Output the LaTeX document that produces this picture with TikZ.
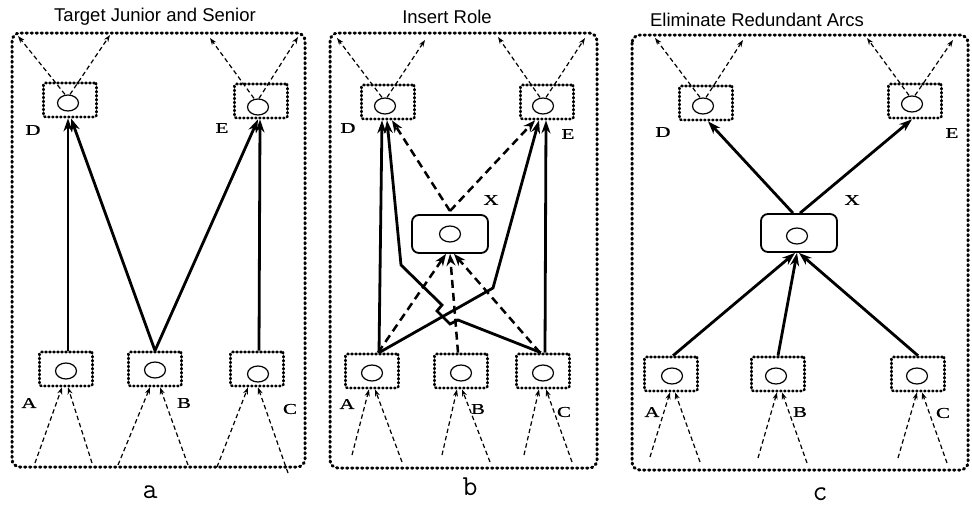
\documentclass[tikz,border=0pt]{standalone}
\usepackage{fontspec}
\setmainfont{Liberation Serif}
\newfontfamily\ttlfont{Liberation Sans}
\newfontfamily\lblfont[FakeStretch=1.4,FakeBold=0.6]{Liberation Serif}
\usetikzlibrary{arrows.meta,shapes.geometric}
\tikzset{
  panel/.style={line width=3pt,dash pattern=on 1.3pt off 3.7pt,line cap=round,rounded corners=8pt},
  role/.style={draw,line width=2.7pt,dash pattern=on 1pt off 3pt,line cap=round,rounded corners=2pt,minimum width=53pt,minimum height=34pt,inner sep=0pt},
  rolex/.style={draw,line width=1.8pt,rounded corners=7pt,minimum width=76pt,minimum height=38pt,inner sep=0pt},
  ring/.style={draw,ellipse,line width=1.2pt,minimum width=21pt,minimum height=16pt,inner sep=0pt},
  lbl/.style={font=\lblfont\fontsize{15}{15}\selectfont,inner sep=0pt},
  ttl/.style={font=\ttlfont\fontsize{18.5}{19}\selectfont,inner sep=0pt},
  subcap/.style={font=\ttfamily\fontsize{29}{29}\selectfont,inner sep=0pt},
  link/.style={line width=2.8pt,-{Stealth[length=13pt,width=9pt]}},
  dlink/.style={line width=2.5pt,dash pattern=on 8pt off 5pt,-{Stealth[length=12pt,width=9pt]}},
  hint/.style={line width=1.2pt,dash pattern=on 4.5pt off 3pt,-{Stealth[length=7pt,width=5pt]}}
}
\begin{document}
\begin{tikzpicture}[x=1pt,y=-1pt]
\useasboundingbox (0,0) rectangle (972,506);
\fill[white] (0,0) rectangle (972,506);

% ================= panel a =================
\node[ttl] (ta) at (155,17) {Target Junior and Senior};
\draw[panel] (12,33) rectangle (305,467);
\node[role] (aD) at (70,100) {};
\node[role] (aE) at (261,101) {};
\node[role] (aA) at (66,369) {};
\node[role] (aB) at (155,369) {};
\node[role] (aC) at (257,369) {};
\node[ring] (aDc) at (68,103) {};
\node[ring] (aEc) at (258,107) {};
\node[ring] (aAc) at (66,371) {};
\node[ring] (aBc) at (155,370) {};
\node[ring] (aCc) at (258,374) {};
\node[lbl] (laD) at (33,130) {D};
\node[lbl] (laE) at (222,128) {E};
\node[lbl] (laA) at (29,403) {A};
\node[lbl] (laB) at (184,403) {B};
\node[lbl] (laC) at (290,409) {C};
\draw[link] ([xshift=2]aA.north) -- ([xshift=-2]aD.south);
\draw[link] (aB.north) -- ([xshift=1]aD.south);
\draw[link] (aB.north) -- ([xshift=-3]aE.south);
\draw[link] ([xshift=2]aC.north) -- ([xshift=-1]aE.south);
% top hints
\coordinate (aT1) at (18,36); \coordinate (aT2) at (110,35);
\coordinate (aT3) at (210,38); \coordinate (aT4) at (298,37);
\draw[hint] ([xshift=-3]aDc.north) -- (aT1);
\draw[hint] ([xshift=2]aDc.north) -- (aT2);
\draw[hint] ([xshift=-4]aEc.north) -- (aT3);
\draw[hint] ([xshift=1]aEc.north) -- (aT4);
% bottom hints
\coordinate (aB1) at (35,463); \coordinate (aB2) at (92,463);
\coordinate (aB3) at (118,465); \coordinate (aB4) at (188,465);
\coordinate (aB5) at (217,467); \coordinate (aB6) at (288,473);
\draw[hint] (aB1) -- ([xshift=-4]aA.south);
\draw[hint] (aB2) -- ([xshift=2]aA.south);
\draw[hint] (aB3) -- ([xshift=-5]aB.south);
\draw[hint] (aB4) -- ([xshift=5]aB.south);
\draw[hint] (aB5) -- ([xshift=-9]aC.south);
\draw[hint] (aB6) -- ([xshift=1]aC.south);
\node[subcap] (capa) at (150,492) {a};

% ================= panel b =================
\node[ttl] (tb) at (447,17) {Insert Role};
\draw[panel] (330,33) rectangle (597,468);
\node[role] (bD) at (388,102) {};
\node[role] (bE) at (547,102) {};
\node[rolex] (bX) at (450,234) {};
\node[role] (bA) at (372,371) {};
\node[role] (bB) at (461,371) {};
\node[role] (bC) at (543,371) {};
\node[ring] (bDc) at (385,106) {};
\node[ring] (bEc) at (543,106) {};
\node[ring] (bXc) at (450,234) {};
\node[ring] (bAc) at (372,373) {};
\node[ring] (bBc) at (461,373) {};
\node[ring] (bCc) at (543,373) {};
\node[lbl] (lbD) at (348,128) {D};
\node[lbl] (lbE) at (568,134) {E};
\node[lbl] (lbX) at (491,200) {X};
\node[lbl] (lbA) at (347,404) {A};
\node[lbl] (lbB) at (478,409) {B};
\node[lbl] (lbC) at (564,412) {C};
% solid links
\coordinate (bK1) at (493,288);
\coordinate (bK2) at (458,320);
\coordinate (bK3) at (450,324);
\coordinate (bK4) at (437,311);
\coordinate (bK5) at (442,305);
\coordinate (bK6) at (401,265);
\draw[link] ([xshift=7]bA.north) -- ([xshift=-6]bD.south);
\draw[link] ([xshift=7]bA.north) -- (bK1) -- ([xshift=-8]bE.south);
\draw[link] ([xshift=2]bC.north) -- ([xshift=-1]bE.south);
\draw[link] ([xshift=-2]bC.north) -- (bK2) -- (bK3) -- (bK4) -- (bK5) -- (bK6) -- ([xshift=-1]bD.south);
% dashed thick links
\coordinate (bV) at (450,211);
\draw[dlink] (bV) -- ([xshift=4]bD.south);
\draw[dlink] (bV) -- ([xshift=-12]bE.south);
\draw[dlink] ([xshift=6]bA.north) -- ([xshift=-4]bX.south);
\draw[dlink] ([xshift=-3]bB.north) -- (bX.south);
\draw[dlink] ([xshift=-3]bC.north) -- ([xshift=4]bX.south);
% top hints
\coordinate (bT1) at (337,38); \coordinate (bT2) at (425,40);
\coordinate (bT3) at (498,37); \coordinate (bT4) at (585,38);
\draw[hint] ([xshift=-3]bDc.north) -- (bT1);
\draw[hint] ([xshift=2]bDc.north) -- (bT2);
\draw[hint] ([xshift=-3]bEc.north) -- (bT3);
\draw[hint] ([xshift=3]bEc.north) -- (bT4);
% bottom hints
\coordinate (bB1) at (352,455); \coordinate (bB2) at (402,462);
\coordinate (bB3) at (442,455); \coordinate (bB4) at (490,462);
\coordinate (bB5) at (524,455); \coordinate (bB6) at (572,462);
\draw[hint] (bB1) -- ([xshift=-3]bA.south);
\draw[hint] (bB2) -- ([xshift=3]bA.south);
\draw[hint] (bB3) -- ([xshift=-4]bB.south);
\draw[hint] (bB4) -- ([xshift=1]bB.south);
\draw[hint] (bB5) -- ([xshift=-4]bC.south);
\draw[hint] (bB6) -- ([xshift=3]bC.south);
\node[subcap] (capb) at (470,487) {b};

% ================= panel c =================
\node[ttl] (tc) at (757,20) {Eliminate Redundant Arcs};
\draw[panel] (632,35) rectangle (968,470);
\node[role] (cD) at (706,103) {};
\node[role] (cE) at (915,101) {};
\node[rolex] (cX) at (799,233) {};
\node[role] (cA) at (671,374) {};
\node[role] (cB) at (778,374) {};
\node[role] (cC) at (918,374) {};
\node[ring] (cDc) at (703,106) {};
\node[ring] (cEc) at (912,104) {};
\node[ring] (cXc) at (797,236) {};
\node[ring] (cAc) at (672,376) {};
\node[ring] (cBc) at (776,376) {};
\node[ring] (cCc) at (917,376) {};
\node[lbl] (lcD) at (663,132) {D};
\node[lbl] (lcE) at (952,133) {E};
\node[lbl] (lcX) at (852,200) {X};
\node[lbl] (lcA) at (652,412) {A};
\node[lbl] (lcB) at (800,412) {B};
\node[lbl] (lcC) at (943,413) {C};
\draw[link] ([xshift=-6]cX.north) -- ([xshift=2]cD.south);
\draw[link] ([xshift=1]cX.north) -- ([xshift=-3]cE.south);
\draw[link] ([xshift=2]cA.north) -- ([xshift=-4]cX.south);
\draw[link] (cB.north) -- ([xshift=-2]cX.south);
\draw[link] (cC.north) -- (cX.south);
% top hints
\coordinate (cT1) at (655,38); \coordinate (cT2) at (743,40);
\coordinate (cT3) at (867,38); \coordinate (cT4) at (953,40);
\draw[hint] ([xshift=-3]cDc.north) -- (cT1);
\draw[hint] ([xshift=3]cDc.north) -- (cT2);
\draw[hint] ([xshift=-3]cEc.north) -- (cT3);
\draw[hint] ([xshift=3]cEc.north) -- (cT4);
% bottom hints
\coordinate (cB1) at (650,457); \coordinate (cB2) at (700,462);
\coordinate (cB3) at (758,458); \coordinate (cB4) at (807,463);
\coordinate (cB5) at (898,458); \coordinate (cB6) at (947,463);
\draw[hint] (cB1) -- ([xshift=-1]cA.south);
\draw[hint] (cB2) -- ([xshift=4]cA.south);
\draw[hint] (cB3) -- ([xshift=-1]cB.south);
\draw[hint] (cB4) -- ([xshift=4]cB.south);
\draw[hint] (cB5) -- ([xshift=-1]cC.south);
\draw[hint] (cB6) -- ([xshift=4]cC.south);
\node[subcap] (capc) at (820,494) {c};
\end{tikzpicture}
\end{document}
